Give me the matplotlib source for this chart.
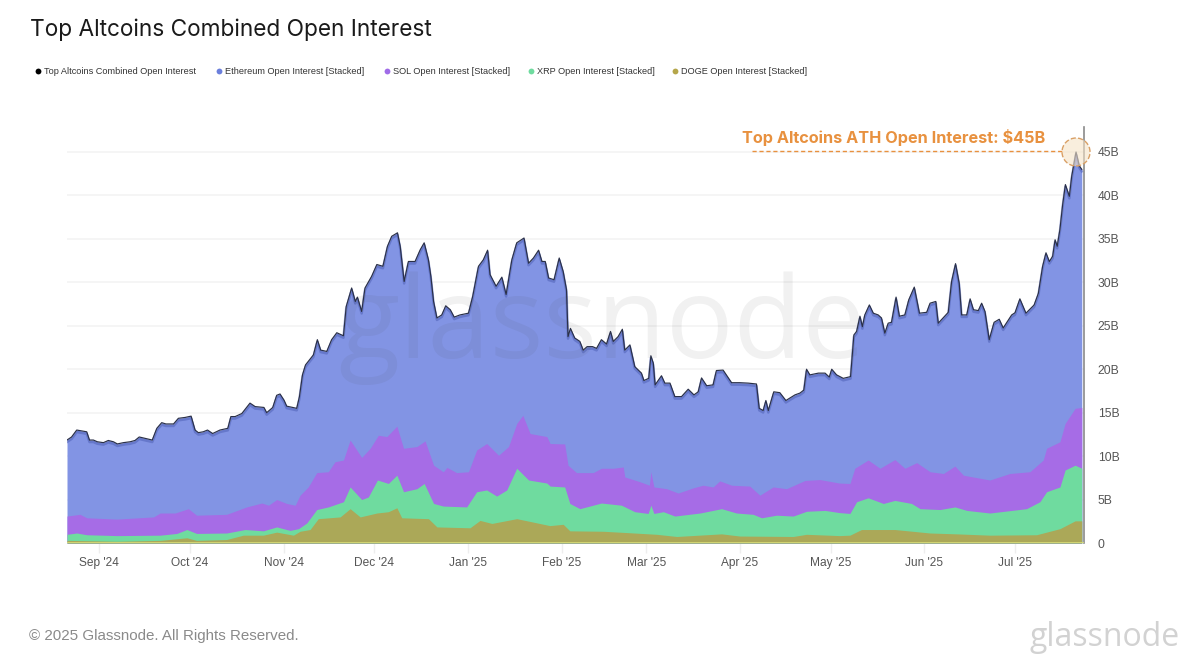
import numpy as np
import pandas as pd
import matplotlib
matplotlib.use("Agg")
import matplotlib.pyplot as plt
import matplotlib.dates as mdates
from matplotlib.transforms import offset_copy

# Values. Day = days since the first sample, value in $B.
combined_days = [0,1.5,3.2,4.8,6.5,7.4,8.7,10,12,13.6,15.3,16.6,18.6,20.8,22.4,23.8,25.7,28.1,29.6,31.2,32.6,35.1,36.7,38.9,40.9,42.2,43.3,44.9,46.3,48,50.4,53,54,55.4,57.6,60.3,62,64.9,65.8,67.8,69.1,70.2,71.5,72.4,75.7,76.6,77.6,78.6,81.2,82.5,83.6,85.6,87.2,88.9,91.1,92,93.8,95,95.7,97.1,98.2,100.4,102.1,104.1,105.6,107,108.9,109.8,111.1,112.5,114.7,116.4,117.7,119.1,119.9,120.8,121.9,123.5,124.8,126.3,127.6,129.5,132.3,133.7,135.6,137.2,138.6,139.4,141.4,143.3,144.7,146.6,148.2,150.6,152.1,153.7,155.4,156.5,157.6,158.7,160.5,162.2,163.5,164.6,165.1,165.9,167.3,169,170.1,171.4,173.2,174.5,176.1,177.8,179.1,180,181.6,183,183.8,185.5,187.1,189.3,190.1,191.7,192.4,193.2,193.8,195.9,197,198.7,200.3,202.5,204.7,206.6,208,209.1,210.8,212.9,214,216.2,219,221.7,224.5,227.2,228.1,229.4,230.3,231.1,232.9,234.9,236.9,239.9,241.5,242.8,243.7,244.8,247.6,249.8,251.2,252,253.6,255.8,258.2,259.3,260.2,261.3,262.1,262.9,264.4,265.7,267.3,268.4,269.5,270.6,271.7,273.2,274.3,276.1,277.4,279.2,280.9,283.3,284.4,286.3,287.1,290.4,291.5,292.8,294,294.8,296.5,297.6,298.7,300.3,301.4,302.5,303.9,305.5,307.2,308.5,311.3,312.4,314,316,318.7,320.1,321.5,322.6,323.7,324.8,325.6,326.3,327.2,328.1,329,330.3,331.1,332.5,333.6,334.4]
combined_values = [11.85,12.2,13.0,12.9,12.8,11.85,11.85,11.65,11.55,11.8,11.65,11.4,11.55,11.65,11.8,12.2,12.05,11.85,13.2,13.85,13.7,13.7,14.35,14.45,14.6,13.0,12.7,12.8,13.0,12.6,13.0,13.2,14.55,14.55,14.9,16.1,15.7,15.6,15.0,15.6,17.0,17.15,16.45,15.75,15.5,16.85,19.35,20.5,21.65,23.4,22.2,22.05,23.4,24.2,23.85,27.2,29.35,27.8,28.3,26.65,29.35,30.7,32.05,31.85,34.15,35.3,35.7,34.15,30.1,32.4,32.4,33.75,34.55,32.6,30.7,27.8,25.9,26.25,27.3,26.85,26.0,26.25,26.45,28.4,31.85,32.6,33.7,30.9,29.55,30.6,28.6,32.6,34.55,35.1,32.2,32.8,33.7,32.4,32.4,30.5,30.3,32.8,31.25,29.15,23.75,24.7,23.6,23.2,22.2,22.6,22.6,22.4,23.4,22.9,24.35,23.2,23.75,24.6,22.2,22.8,20.3,19.55,18.7,18.95,21.55,20.7,18.2,19.25,18.4,18.4,16.85,16.85,17.7,17.05,17.4,19.0,18.1,18.2,19.85,19.9,18.45,18.45,18.4,18.3,15.5,15.25,16.4,15.25,17.4,17.3,16.4,17.05,17.25,17.6,20.0,19.35,19.55,19.55,19.1,20.0,19.35,18.95,19.15,23.95,24.35,26.1,24.9,26.25,27.4,26.45,26.25,25.9,24.15,25.3,25.4,28.3,26.1,26.25,28.0,29.45,26.45,26.55,27.6,27.8,25.3,26.55,30.1,32.15,29.9,26.25,26.25,28.1,26.85,26.75,27.6,26.65,23.4,25.4,25.75,24.75,26.25,26.5,28.1,26.45,27.4,28.75,31.85,33.4,32.4,33.0,34.9,34.15,36.1,38.95,41.25,39.9,42.25,45.0,43.4,43.0]

sol_days = [0,4.3,6.5,16.4,28.5,30.7,35.6,40,42.7,52.6,59.2,64.2,66.4,69.1,72.4,75.2,76.8,79.5,82.3,86.1,88.3,91.1,93.3,97.1,99.9,102.6,105.4,108.7,110.9,115.3,118,120.8,124,125.2,128.4,132.3,135,138.3,142.2,145.5,148.2,150.2,152.6,158.1,159.2,164,165.1,167.9,173.4,176.1,180,183.3,183.8,188.8,191.9,192.4,193.4,197.6,201.4,206.4,209.6,212.9,215.1,219,225,228.3,232.7,237.1,243.2,248.1,254.5,258,259.6,264,267.9,272.8,276.1,280,284.4,288.8,292.6,295.4,304.1,310.7,317.3,321.7,322.8,327.2,328.9,332.2,334.4]
sol_top = [3.1,3.3,2.9,2.75,3.0,3.45,3.45,3.95,3.2,3.3,4.15,4.6,4.35,5.0,4.55,4.35,5.5,6.45,8.1,8.2,9.35,9.55,11.85,9.85,10.9,12.4,12.25,13.45,10.9,11.1,11.75,8.95,8.2,8.7,8.1,8.2,10.7,11.45,10.1,11.1,13.75,14.7,12.6,12.25,11.45,11.4,8.95,8.1,8.1,8.6,8.6,8.75,7.6,7.05,6.65,8.2,6.45,6.25,5.75,6.35,6.65,6.45,7.15,6.65,6.55,5.5,6.45,6.25,7.2,7.3,6.9,6.85,8.6,9.55,8.6,9.6,8.6,9.25,8.2,8.0,8.85,7.8,7.25,8.0,8.2,9.55,10.9,11.65,13.75,15.5,15.6]

xrp_days = [0,3.2,6.5,16.4,30.7,36.2,39.5,42.7,52.6,58.7,64.7,69.1,73.5,76.3,79,82.3,86.1,91.1,93.3,97.1,99.3,102.3,105.9,108.7,110.9,115.3,117.7,120.8,124,131.7,135,138.3,141.6,144.9,148.2,152.1,158.1,159.2,164,165.7,169,176.1,182.7,187.1,191.5,192.4,193.4,196.5,200.3,208.6,215.7,220.6,226.1,228.9,233.8,239.3,243.7,249.8,254.5,258,260.2,264,269,272.8,278.3,281.1,287.7,292.6,296.5,304.1,316.2,320.6,322.8,327.2,328.9,332.2,334.4]
xrp_top = [1.0,1.15,0.95,0.85,0.9,1.1,1.55,1.1,1.15,1.55,1.4,1.85,1.45,1.65,2.3,3.85,4.15,4.75,6.45,5.0,5.3,7.25,6.85,7.8,5.9,6.25,6.85,4.55,4.25,4.15,5.9,6.1,5.4,6.1,8.6,7.25,6.9,6.55,6.45,4.55,3.95,4.6,4.35,3.6,3.4,4.35,3.4,3.6,3.1,3.45,3.95,3.45,3.3,2.9,3.2,3.1,3.65,3.75,3.5,3.4,4.75,5.2,4.55,4.9,4.55,3.95,3.85,4.15,3.75,3.45,3.95,4.75,5.9,6.45,8.4,8.95,8.6]

doge_days = [0,8.7,16.4,30.7,39.5,42.7,52.6,58.1,64.7,69.1,74.6,76.8,80.1,82.8,90,93.3,96.6,102.1,105.9,108.7,110.3,119.1,121.9,132.8,136.1,140,148.2,153.7,159.1,163.5,165.7,176.7,184.4,194.3,200.9,215.7,221.7,239.3,243.7,254.5,258,261.8,272.8,284.4,293.2,304.1,319.5,327.2,332.2,334.4]
doge_top = [0.3,0.25,0.2,0.3,0.6,0.3,0.4,0.9,0.9,1.25,0.9,1.35,1.55,2.8,3.0,3.95,3.0,3.45,3.6,4.05,2.9,2.8,1.85,1.75,2.6,2.25,2.8,2.4,2.0,2.15,1.4,1.35,1.2,1.0,0.75,1.05,0.8,0.75,1.0,0.85,0.9,1.55,1.55,1.15,1.05,0.9,0.95,1.65,2.55,2.55]

y_ticks = [0, 5, 10, 15, 20, 25, 30, 35, 40, 45]
y_labels = ["0", "5B", "10B", "15B", "20B", "25B", "30B", "35B", "40B", "45B"]
legend_labels = ["Top Altcoins Combined Open Interest", "Ethereum Open Interest [Stacked]",
                 "SOL Open Interest [Stacked]", "XRP Open Interest [Stacked]", "DOGE Open Interest [Stacked]"]
legend_colors = ["#000000", "#6B7FDC", "#A06CE8", "#6FDB9F", "#B5A64A"]
legend_marker_px = [38, 219, 387, 531, 675]

W, H = 1200, 667
START = pd.Timestamp("2024-08-21 08:00")
END = pd.Timestamp("2025-07-23 19:00")
DAY_SCALE = 3.035 / 3.023  # calibration of the day readings


def to_dates(days):
    return START + pd.to_timedelta(np.asarray(days, dtype=float) * DAY_SCALE, unit="D")


plt.rcParams["font.family"] = ["Liberation Sans", "DejaVu Sans"]
fig = plt.figure(figsize=(12, 6.67), dpi=100, facecolor="white")
ax = fig.add_axes([67 / W, 1 - 543 / H, (1084 - 67) / W, (543 - 127) / H])
ax.set_xlim(START, END)
ax.set_ylim(0, (543 - 127) / 8.689)


def fx(px):
    return px / W


def fy(py):
    return 1 - py / H


# gridlines
ax.set_yticks(y_ticks)
ax.set_yticklabels(y_labels)
ax.grid(axis="y", color="#F3F3F3", lw=1.1, zorder=0)
ax.set_axisbelow(True)

# painted back to front, each band reaches down to zero
t_comb = to_dates(combined_days)
ax.fill_between(t_comb, combined_values, 0, color="#8294E4", lw=0, zorder=2)
ax.fill_between(to_dates(sol_days), sol_top, 0, color="#A66CE6", lw=0, zorder=3)
ax.fill_between(to_dates(xrp_days), xrp_top, 0, color="#6FDB9F", lw=0, zorder=4)
ax.fill_between(to_dates(doge_days), doge_top, 0, color="#ABA858", lw=0, zorder=5)
ax.axhline(0, color="#D8DC78", lw=1.2, zorder=6)

# darker shadow under the top line, then the line itself
shadow = offset_copy(ax.transData, fig=fig, x=0, y=-2, units="dots")
ax.plot(t_comb, combined_values, color="#5062B8", lw=1.8, alpha=0.55, transform=shadow, zorder=7)
ax.plot(t_comb, combined_values, color="#2A3048", lw=0.85, zorder=8)

# axes furniture
for s in ["top", "left", "bottom"]:
    ax.spines[s].set_visible(False)
ax.spines["right"].set_color("#8A8A8A")
ax.spines["right"].set_linewidth(1.2)
ax.yaxis.tick_right()
ax.tick_params(axis="y", length=0, pad=10, labelsize=8.7, labelcolor="#555555")
ax.xaxis.set_major_locator(mdates.MonthLocator())
ax.xaxis.set_major_formatter(mdates.DateFormatter("%b '%y"))
ax.tick_params(axis="x", length=7, width=1, color="#EEEEEE", pad=3, labelsize=8.6, labelcolor="#555555")

# watermark
fig.text(fx(602), fy(358), "glassnode", fontsize=81, family="Open Sans", color="#444444", alpha=0.075,
         ha="center", va="baseline", zorder=20)

# title and legend
fig.text(fx(30), fy(30), "Top Altcoins Combined Open Interest", fontsize=16.3, family="Inter", color="#1A1A1A",
         ha="left", va="center")
for label, color, mx in zip(legend_labels, legend_colors, legend_marker_px):
    fig.add_artist(plt.Line2D([fx(mx)], [fy(71)], marker="o", ms=4.2, color=color, mew=0, transform=fig.transFigure))
    fig.text(fx(mx + 6), fy(71), label, fontsize=6.6, color="#333333", ha="left", va="center")

# ATH annotation
orange = "#E8913F"
fig.text(fx(742), fy(138), "Top Altcoins ATH Open Interest: $45B", fontsize=11.7, fontweight="bold", color=orange,
         family="Inter", ha="left", va="center", zorder=20)
fig.add_artist(plt.Line2D([fx(752), fx(1062)], [fy(151), fy(151)], color=orange, lw=1, ls=(0, (3, 2)),
                          transform=fig.transFigure, zorder=20))
ax.scatter([to_dates([332.5])[0]], [45], s=(28 * 0.72) ** 2, facecolor=(0.96, 0.89, 0.78, 0.6), edgecolor="#D9A066",
           linestyle="--", lw=1, zorder=9, clip_on=False)

# footer
fig.text(fx(29), fy(636), "\u00a9 2025 Glassnode. All Rights Reserved.", fontsize=10.9, color="#8A8A8A",
         ha="left", va="center")
fig.text(fx(1180), fy(637), "glassnode", fontsize=23, family="Open Sans", color="#D2D2D2", ha="right", va="center")

fig.savefig("out.png", dpi=100, facecolor="white")
